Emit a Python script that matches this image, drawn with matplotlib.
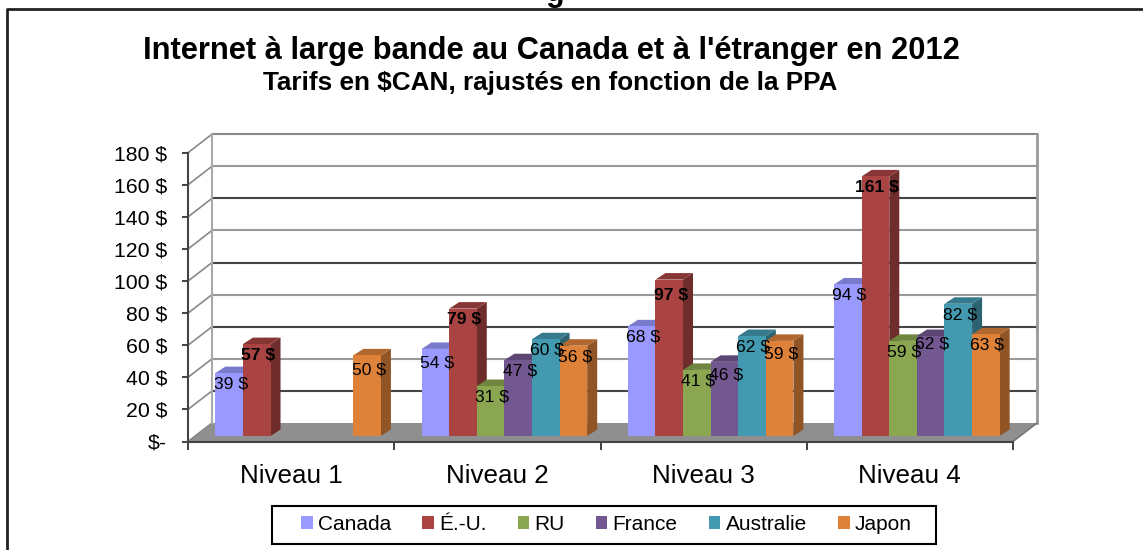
import matplotlib
matplotlib.use("Agg")
import matplotlib.pyplot as plt
from matplotlib.patches import Patch, Rectangle
from matplotlib.colors import to_rgb

plt.rcParams['font.family'] = ['Liberation Sans', 'DejaVu Sans']

# data
niveaux = ['Niveau 1', 'Niveau 2', 'Niveau 3', 'Niveau 4']
pays = ['Canada', 'É.-U.', 'RU', 'France', 'Australie', 'Japon']
canada = [39, 54, 68, 94]
eu = [57, 79, 97, 161]
ru = [None, 31, 41, 59]
france = [None, 47, 46, 62]
australie = [None, 60, 62, 82]
japon = [50, 56, 59, 63]
series = [canada, eu, ru, france, australie, japon]
couleurs = ['#9999FF', '#A94442', '#8BA650', '#735791', '#4299B0', '#DE8139']
yticks = list(range(0, 181, 20))
ylabels = ['$-'] + ['%d $' % v for v in yticks[1:]]
grid_colors = ['#555555', '#444444', '#999999', '#444444', '#999999',
               '#444444', '#999999', '#444444', '#999999', '#888888']

W, H = 1143, 550
fig = plt.figure(figsize=(W / 100, H / 100), dpi=100, facecolor='white')
# front plane of the 3D box
left, right, top, bottom = 188, 1013, 152.7, 441.5
ax = fig.add_axes([left / W, 1 - bottom / H, (right - left) / W, (bottom - top) / H])
ax.set_xlim(0, 4)
ax.set_ylim(0, 180)
ax.patch.set_visible(False)

px_x = 4 / (right - left)
px_y = 180 / (bottom - top)
wall_dx, wall_dy = 24 * px_x, 18.5 * px_y
depth_x, depth_y = 10 * px_x, 6.5 * px_y
shift_x, shift_y = 7 * px_x, 5.5 * px_y
bar_w = 27.6 * px_x
# labels that sit lower than the others in the original, (group, series): px
label_nudge = {(2, 1): 5, (1, 0): 3, (3, 3): -3, (2, 3): 2, (0, 5): 4, (2, 5): 2}


def shade(color, k):
    return tuple(c * k for c in to_rgb(color))


def poly(xs, ys, color, z, **kw):
    ax.fill(xs, ys, color=color, zorder=z, clip_on=False, lw=0, **kw)


# floor
poly([0, 4, 4 + wall_dx, wall_dx], [0, 0, wall_dy, wall_dy], '#8F8F8F', 1)

# walls and gridlines
for v, c in zip(yticks, grid_colors):
    y = v + wall_dy
    if v > 0:
        ax.plot([wall_dx, 4 + wall_dx], [y, y], color=c, lw=1.5, zorder=1.5, clip_on=False)
    ax.plot([0, wall_dx], [v, y], color='#888888', lw=1.2, zorder=1.5, clip_on=False)
ax.plot([wall_dx, wall_dx], [wall_dy, 180 + wall_dy], color='#AAAAAA', lw=1.5, zorder=1.5, clip_on=False)
ax.plot([4 + wall_dx, 4 + wall_dx], [wall_dy, 180 + wall_dy], color='#999999', lw=2, zorder=1.5, clip_on=False)
ax.plot([4, 4 + wall_dx], [0, wall_dy], color='#777777', lw=1.2, zorder=1.5, clip_on=False)

# bars, left to right so each one covers the side of the previous one
n = len(series)
for g in range(len(niveaux)):
    for s, vals in enumerate(series):
        v = vals[g]
        if v is None:
            continue
        x0 = g + 0.5 + (s - n / 2) * bar_w + shift_x
        x1 = x0 + bar_w
        y0 = shift_y
        y1 = v * 1.005 + shift_y
        col = couleurs[s]
        z = 2 + g + s * 0.1
        poly([x1, x1 + depth_x, x1 + depth_x, x1],
             [y0, y0 + depth_y, y1 + depth_y, y1], shade(col, 0.65), z)
        poly([x0, x1, x1 + depth_x, x0 + depth_x],
             [y1, y1, y1 + depth_y, y1 + depth_y], shade(col, 0.8), z)
        poly([x0, x1, x1, x0], [y0, y0, y1, y1], col, z)
        drop = 11 + label_nudge.get((g, s), 0)
        ax.text((x0 + x1) / 2 + 1.5 * px_x, y1 - drop * px_y, '%d $' % v,
                ha='center', va='center', fontsize=12.6, color='black', zorder=10,
                fontweight='bold' if s == 1 else 'normal')

# axes
for side in ['top', 'right']:
    ax.spines[side].set_visible(False)
for side in ['left', 'bottom']:
    ax.spines[side].set_color('#444444')
    ax.spines[side].set_linewidth(1.5)
    ax.spines[side].set_zorder(1.6)
ax.set_yticks(yticks)
ax.set_yticklabels(ylabels, fontsize=15.3)
ax.tick_params(axis='y', length=4.5, width=1.2, color='#222222', pad=10.5)
ax.set_xticks(range(5))
ax.set_xticklabels([])
ax.tick_params(axis='x', length=6, width=1.2, color='#222222')
ax.set_xticks([g + 0.5 for g in range(4)], minor=True)
ax.set_xticklabels(niveaux, minor=True, fontsize=18.7)
ax.tick_params(axis='x', which='minor', length=0, pad=16)

# titles
fig.text(551 / W, 1 - 51 / H, "Internet à large bande au Canada et à l'étranger en 2012",
         ha='center', va='center', fontsize=22.2, fontweight='bold')
fig.text(550 / W, 1 - 83 / H, 'Tarifs en $CAN, rajustés en fonction de la PPA',
         ha='center', va='center', fontsize=18.8, fontweight='bold')

# descender of the heading cut off by the top edge
fig.text(555 / W, 1 - 1 / H, 'g', ha='center', va='baseline', fontsize=22, fontweight='bold')

# outer frame, only top and left are in the crop
fig.add_artist(plt.Line2D([6.5 / W, 6.5 / W, 1], [0, 1 - 9 / H, 1 - 9 / H], color='#222222', lw=2))

# legend box drawn apart so the entries can keep their own spacing
fig.add_artist(Rectangle((272 / W, 1 - 543.5 / H), 664 / W, 38 / H, transform=fig.transFigure,
                         facecolor='white', edgecolor='black', lw=1.5))
handles = [Patch(facecolor=c, edgecolor='none', label=p) for c, p in zip(couleurs, pays)]
fig.legend(handles=handles, loc='center', ncol=6,
           bbox_to_anchor=(606.5 / W, 1 - 524.5 / H),
           borderaxespad=0, borderpad=0, fontsize=15, frameon=False,
           handlelength=0.55, handleheight=0.55, handletextpad=0.25, columnspacing=1.5)

fig.savefig('out.png', dpi=100)
